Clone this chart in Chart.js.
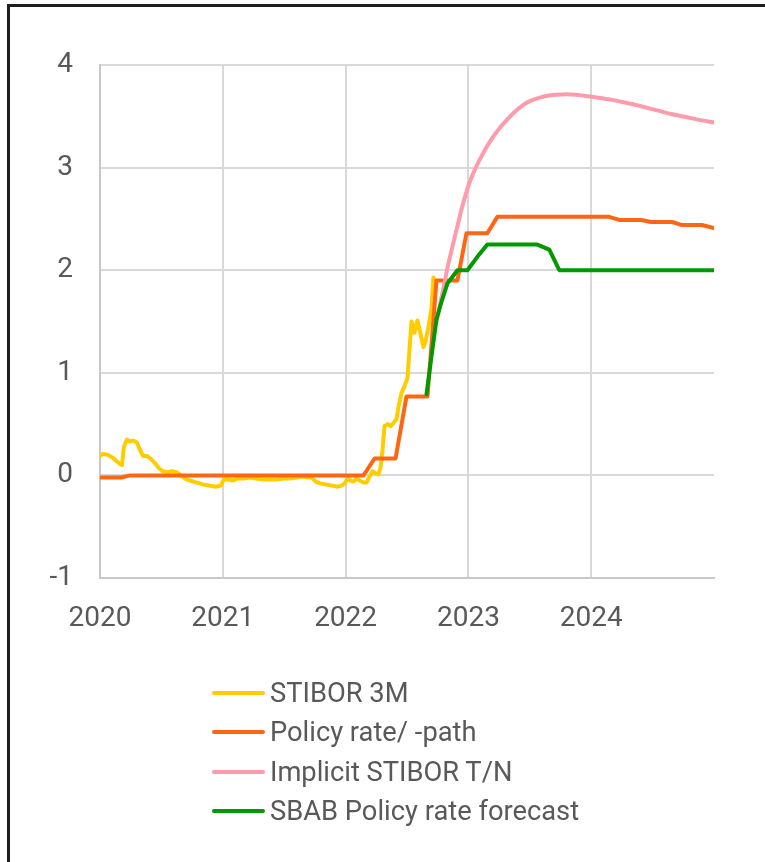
<!DOCTYPE html>
<html>
<head>
<meta charset="utf-8">
<script src="https://cdn.jsdelivr.net/npm/chart.js@4.4.1/dist/chart.umd.min.js"></script>
<style>
  html, body { margin: 0; padding: 0; background: #fff; }
  body { width: 765px; height: 862px; position: relative; overflow: hidden; font-family: Roboto, "Noto Sans", sans-serif; }
  #frame { position: absolute; left: 7px; top: 4px; width: 820px; height: 900px;
           border-top: 3px solid #1e1e1e; border-left: 3px solid #1e1e1e; box-sizing: border-box; }
  #chart { position: absolute; left: 0; top: 0; }
  #legend { position: absolute; left: 0; top: 0; width: 765px; }
  .row { position: absolute; left: 212px; height: 40px; line-height: 40px; font-size: 27.3px; color: #595959; white-space: nowrap; }
  .swatch { position: absolute; left: 0; top: 18px; width: 53px; height: 4px; border-radius: 2px; }
  .label { position: absolute; left: 58px; top: 0; }
</style>
</head>
<body>
<div id="frame"></div>
<canvas id="chart" width="765" height="862"></canvas>
<div id="legend"></div>
<script>
// Rates in percent, dates as decimal years
const seriesNames = ['STIBOR 3M', 'Policy rate/ -path', 'Implicit STIBOR T/N', 'SBAB Policy rate forecast'];
const seriesColors = ['#ffcc00', '#ff6614', '#ff9bab', '#009a00'];
const yearTicks = [2020, 2021, 2022, 2023, 2024];

const stiborYears = [
  2020.000, 2020.024, 2020.065, 2020.106, 2020.154, 2020.179, 2020.195, 2020.220, 2020.244, 2020.268,
  2020.301, 2020.325, 2020.350, 2020.382, 2020.415, 2020.447, 2020.480, 2020.512, 2020.545, 2020.585,
  2020.626, 2020.659, 2020.691, 2020.732, 2020.789, 2020.846, 2020.894, 2020.943, 2020.984, 2021.008,
  2021.049, 2021.081, 2021.122, 2021.171, 2021.220, 2021.268, 2021.325, 2021.382, 2021.439, 2021.496,
  2021.545, 2021.602, 2021.650, 2021.691, 2021.724, 2021.756, 2021.797, 2021.846, 2021.894, 2021.935,
  2021.967, 2021.992, 2022.016, 2022.041, 2022.065, 2022.089, 2022.114, 2022.146, 2022.171, 2022.195,
  2022.220, 2022.244, 2022.268, 2022.285, 2022.301, 2022.317, 2022.341, 2022.366, 2022.390, 2022.415,
  2022.431, 2022.455, 2022.480, 2022.504, 2022.520, 2022.537, 2022.561, 2022.585, 2022.610, 2022.634,
  2022.650, 2022.675, 2022.699, 2022.715, 2022.732
];
const stiborValues = [
  0.19, 0.21, 0.20, 0.17, 0.12, 0.10, 0.28, 0.35, 0.33, 0.34,
  0.32, 0.25, 0.19, 0.19, 0.16, 0.12, 0.07, 0.04, 0.03, 0.04,
  0.03, 0.00, -0.03, -0.05, -0.07, -0.09, -0.10, -0.11, -0.10, -0.04,
  -0.04, -0.05, -0.03, -0.03, -0.02, -0.03, -0.04, -0.04, -0.04, -0.03,
  -0.03, -0.02, -0.01, -0.02, -0.02, -0.06, -0.08, -0.09, -0.10, -0.11,
  -0.10, -0.08, -0.03, -0.05, -0.06, -0.03, -0.05, -0.07, -0.07, -0.01,
  0.04, 0.02, 0.01, 0.08, 0.25, 0.48, 0.50, 0.48, 0.51, 0.55,
  0.67, 0.80, 0.87, 0.95, 1.22, 1.50, 1.39, 1.51, 1.38, 1.25,
  1.30, 1.45, 1.62, 1.93, 1.88
];

const policyYears = [
  2020.000, 2020.176, 2020.244, 2022.146, 2022.236, 2022.407, 2022.496, 2022.667, 2022.740, 2022.911,
  2022.984, 2023.154, 2023.236, 2024.146, 2024.228, 2024.407, 2024.488, 2024.659, 2024.740, 2024.902,
  2025.000
];
const policyValues = [
  -0.02, -0.02, 0.00, 0.00, 0.165, 0.165, 0.77, 0.77, 1.90, 1.90,
  2.36, 2.36, 2.52, 2.52, 2.49, 2.49, 2.47, 2.47, 2.44, 2.44,
  2.41
];

const impliedYears = [
  2022.740, 2022.789, 2022.829, 2022.870, 2022.911, 2022.943, 2022.976, 2023.008, 2023.049, 2023.089,
  2023.138, 2023.195, 2023.252, 2023.309, 2023.374, 2023.439, 2023.504, 2023.577, 2023.642, 2023.715,
  2023.797, 2023.878, 2023.943, 2024.008, 2024.089, 2024.171, 2024.252, 2024.333, 2024.415, 2024.496,
  2024.577, 2024.659, 2024.740, 2024.821, 2024.902, 2025.000
];
const impliedValues = [
  1.50, 1.78, 2.02, 2.23, 2.43, 2.59, 2.73, 2.85, 2.97, 3.07,
  3.18, 3.29, 3.38, 3.46, 3.54, 3.605, 3.65, 3.68, 3.70, 3.71,
  3.715, 3.71, 3.70, 3.69, 3.675, 3.66, 3.64, 3.62, 3.595, 3.57,
  3.545, 3.52, 3.50, 3.48, 3.46, 3.44
];

const sbabYears = [
  2022.659, 2022.699, 2022.740, 2022.780, 2022.829, 2022.911, 2022.992, 2023.073, 2023.154, 2023.561,
  2023.659, 2023.740, 2025.000
];
const sbabValues = [
  0.79, 1.16, 1.52, 1.69, 1.87, 2.00, 2.00, 2.13, 2.25, 2.25,
  2.20, 2.00, 2.00
];

const seriesYears = [stiborYears, policyYears, impliedYears, sbabYears];
const seriesValues = [stiborValues, policyValues, impliedValues, sbabValues];

const textColor = '#595959';
const gridColor = '#d9d9d9';
const tickFont = { family: 'Roboto', size: 28 };

const datasets = seriesNames.map((name, i) => ({
  label: name,
  data: seriesYears[i].map((x, j) => ({ x: x, y: seriesValues[i][j] })),
  borderColor: seriesColors[i],
  backgroundColor: seriesColors[i],
  borderWidth: 4,
  pointRadius: 0,
  fill: false,
  // only the market-implied curve is smoothed
  tension: i === 2 ? 0.4 : 0,
  borderJoinStyle: 'round',
  borderCapStyle: 'round',
  // later series are painted over earlier ones
  order: seriesNames.length - i
}));

new Chart(document.getElementById('chart'), {
  type: 'line',
  data: { datasets: datasets },
  options: {
    responsive: false,
    animation: false,
    devicePixelRatio: 1,
    parsing: false,
    layout: { padding: { top: 65, right: 51, bottom: 0, left: 0 } },
    plugins: { legend: { display: false }, tooltip: { enabled: false } },
    scales: {
      x: {
        type: 'linear',
        min: 2020,
        max: 2025,
        afterBuildTicks: (s) => { s.ticks = yearTicks.map(v => ({ value: v })); },
        afterFit: (s) => { s.height = 862 - 578; },
        grid: { color: gridColor, lineWidth: 2, drawTicks: false },
        border: { color: '#c8c8c8', width: 2 },
        ticks: {
          padding: 24, color: textColor, font: tickFont,
          maxRotation: 0, autoSkip: false,
          callback: (v) => String(v)
        }
      },
      y: {
        min: -1,
        max: 4,
        afterBuildTicks: (s) => { s.ticks = [-1, 0, 1, 2, 3, 4].map(v => ({ value: v })); },
        afterFit: (s) => { s.width = 100; },
        grid: { color: gridColor, lineWidth: 2, drawTicks: false },
        border: { color: '#c8c8c8', width: 2 },
        ticks: {
          padding: 27, color: textColor, font: tickFont,
          callback: (v) => String(v)
        }
      }
    }
  }
});

// Legend: one entry per row under the plot
const legend = document.getElementById('legend');
seriesNames.forEach((name, i) => {
  const row = document.createElement('div');
  row.className = 'row';
  row.style.top = (673 + i * 39.3) + 'px';
  const sw = document.createElement('span');
  sw.className = 'swatch';
  sw.style.background = seriesColors[i];
  const lb = document.createElement('span');
  lb.className = 'label';
  lb.textContent = name;
  row.appendChild(sw);
  row.appendChild(lb);
  legend.appendChild(row);
});
</script>
</body>
</html>
